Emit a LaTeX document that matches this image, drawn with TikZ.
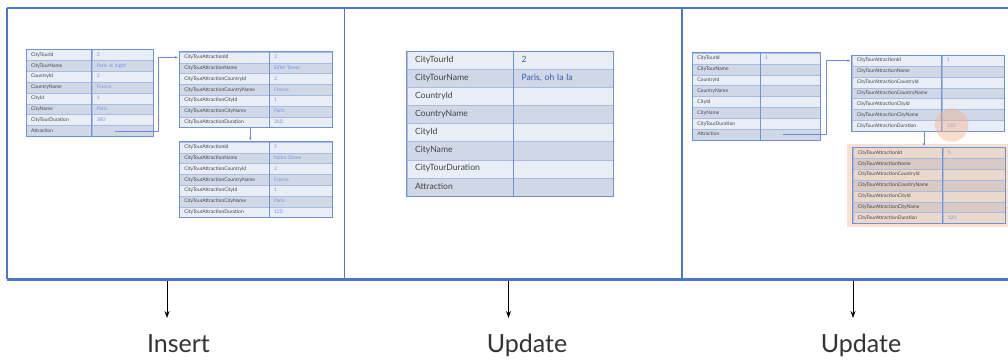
\documentclass[tikz,border=0pt]{standalone}
\usepackage{fontspec}
\setmainfont{Lato}
\usetikzlibrary{arrows.meta,calc}
\definecolor{frameblue}{HTML}{4A78CC}
\definecolor{rowA}{HTML}{E9EDF5}
\definecolor{rowB}{HTML}{D0D8E8}
\definecolor{gridline}{HTML}{A9BCE0}
\definecolor{tblborder}{HTML}{6E93D6}
\definecolor{valblue}{HTML}{7392DC}
\definecolor{valdark}{HTML}{3B5BA9}
\definecolor{labgray}{HTML}{454545}
\definecolor{peach}{HTML}{F9E1D1}
\definecolor{orA}{HTML}{EBD8CD}
\definecolor{orB}{HTML}{DACAC6}
\definecolor{connblue}{HTML}{6A8AE6}
\definecolor{hilite}{HTML}{F0B48C}
\tikzset{
  cell/.style={anchor=north west, draw=gridline, line width=0.4pt, inner ysep=0pt, align=left, text=labgray},
  sm/.style={font=\fontsize{5}{5.5}\selectfont, text height=3.6pt, text depth=1pt},
  smval/.style={sm, text=valblue},
  bg/.style={font=\fontsize{8.6}{10}\selectfont, text height=6.2pt, text depth=1.8pt},
  bgval/.style={bg, text=valdark},
  b1/.style={fill=rowA}, b0/.style={fill=rowB},
  o1/.style={fill=orA}, o0/.style={fill=orB},
  frame/.style={draw=frameblue, line width=1.4pt},
  conn/.style={draw=connblue, line width=0.7pt, -{Stealth[length=3pt,width=2.6pt]}, shorten >=1.5pt},
  downarrow/.style={draw=black, line width=0.9pt, -{Stealth[length=7pt,width=5pt]}},
  caption/.style={font=\fontsize{25}{30}\selectfont, text=black!80}
}
% #1 name, #2 x, #3 y, #4 w1, #5 w2, #6 row h, #7 colour prefix, #8 font style, #9 rows
\newcommand\mktable[9]{%
  \pgfmathsetmacro\tpad{0.45*#6}%
  \pgfmathsetmacro\twa{#4-2*\tpad}%
  \pgfmathsetmacro\twb{#5-2*\tpad}%
  \foreach \lab/\val [count=\i] in {#9} {%
    \pgfmathtruncatemacro\rp{mod(\i,2)}%
    \pgfmathsetmacro\yy{#3+(\i-1)*#6}%
    \pgfmathsetmacro\xx{#2+#4}%
    \node[cell, #8, #7\rp, minimum height=#6pt, inner xsep=\tpad pt, text width=\twa pt] (#1-l\i) at (#2,\yy) {\lab};
    \node[cell, #8val, #7\rp, minimum height=#6pt, inner xsep=\tpad pt, text width=\twb pt] (#1-v\i) at (\xx,\yy) {\val};
    \xdef\lastrow{\i}%
  }%
  \draw[tblborder, line width=0.7pt] (#1-l1.north west) rectangle (#1-v\lastrow.south east);
  \draw[tblborder, line width=0.7pt] (#1-v1.north west) -- (#1-v\lastrow.south west);
}
\begin{document}
\begin{tikzpicture}[x=1pt,y=-1pt]
\useasboundingbox (0,0) rectangle (1008,359);
% frame
\coordinate (f-tl) at (7,8);
\coordinate (f-tr) at (1008,8);
\coordinate (f-bl) at (7,279);
\coordinate (f-br) at (1008,279);
\coordinate (d1t) at (344.3,8);
\coordinate (d1b) at (344.3,279);
\coordinate (d2t) at (682,8);
\coordinate (d2b) at (682,279);
\draw[frame] (f-tl) -- (f-tr);
\draw[frame] (f-tl) -- (f-bl);
\draw[frame] (d1t) -- (d1b);
\draw[frame] (d2t) -- (d2b);
\draw[draw=frameblue, line width=3pt] (f-bl) -- (f-br);

% panel 1
\mktable{t1}{26}{49.3}{65.7}{61}{10.84}{b}{sm}{CityTourId/2, CityTourName/Paris at night, CountryId/2, CountryName/France, CityId/1, CityName/Paris, CityTourDuration/380, Attraction/{}}
\mktable{t2}{179.3}{51.7}{89.7}{62.7}{10.8}{b}{sm}{CityTourAttractionId/3, CityTourAttractionName/Eiffel Tower, CityTourAttractionCountryId/2, CityTourAttractionCountryName/France, CityTourAttractionCityId/1, CityTourAttractionCityName/Paris, CityTourAttractionDuration/260}
\mktable{t3}{179.3}{141.7}{89.7}{62.7}{10.8}{b}{sm}{CityTourAttractionId/5, CityTourAttractionName/Notre Dame, CityTourAttractionCountryId/2, CityTourAttractionCountryName/France, CityTourAttractionCityId/1, CityTourAttractionCityName/Paris, CityTourAttractionDuration/120}
\coordinate (c1) at (115,131);
\draw[conn] (c1) -- ++(43,0) |- (t2-l1.west);
\draw[conn] ($(t2-l7.south)+(26,0)$) -- ($(t3-l1.north)+(26,0)$);

% panel 2
\mktable{p2}{406.7}{51}{106.6}{99.4}{18.09}{b}{bg}{CityTourId/2, CityTourName/{Paris, oh la la}, CountryId/{}, CountryName/{}, CityId/{}, CityName/{}, CityTourDuration/{}, Attraction/{}}

% panel 3
\mktable{u1}{692.3}{52.7}{67.7}{60}{10.9}{b}{sm}{CityTourId/1, CityTourName/{}, CountryId/{}, CountryName/{}, CityId/{}, CityName/{}, CityTourDuration/{}, Attraction/{}}
\mktable{u2}{851.7}{55}{90}{62.3}{10.86}{b}{sm}{CityTourAttractionId/1, CityTourAttractionName/{}, CityTourAttractionCountryId/{}, CityTourAttractionCountryName/{}, CityTourAttractionCityId/{}, CityTourAttractionCityName/{}, CityTourAttractionDuration/100}
\fill[peach] (847,144) rectangle (1008,227);
\mktable{u3}{852.7}{147.3}{90}{62.3}{10.86}{o}{sm}{CityTourAttractionId/5, CityTourAttractionName/{}, CityTourAttractionCountryId/{}, CityTourAttractionCountryName/{}, CityTourAttractionCityId/{}, CityTourAttractionCityName/{}, CityTourAttractionDuration/120}
\coordinate (c2) at (783,134.3);
\draw[conn] (c2) -- ++(43.7,0) |- (u2-l1.west);
\draw[conn] ($(u2-l7.south)+(27,0)$) -- ($(u3-l1.north)+(26,0)$);
\fill[hilite, opacity=0.45] (951.7,125) circle (16.7);

% bottom arrows and captions
\coordinate (a1s) at (167,281);
\coordinate (a1e) at (167,318);
\coordinate (a2s) at (508.5,281);
\coordinate (a2e) at (508.5,318);
\coordinate (a3s) at (853,281);
\coordinate (a3e) at (853,318);
\draw[downarrow] (a1s) -- (a1e);
\draw[downarrow] (a2s) -- (a2e);
\draw[downarrow] (a3s) -- (a3e);
\node[caption, anchor=base] (lab1) at (178.5,352) {Insert};
\node[caption, anchor=base] (lab2) at (527,352) {Update};
\node[caption, anchor=base] (lab3) at (861,352) {Update};
\end{tikzpicture}
\end{document}
